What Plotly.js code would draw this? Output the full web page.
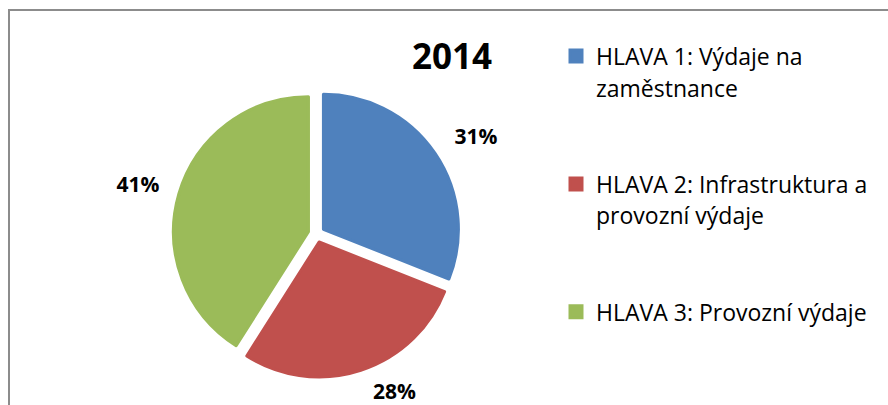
<!DOCTYPE html>
<html>
<head>
<meta charset="utf-8">
<script src="https://cdn.plot.ly/plotly-3.0.1.min.js"></script>
<style>html,body{margin:0;padding:0;background:#fff;}#chart{width:888px;height:405px;}</style>
</head>
<body>
<div id="chart"></div>
<script>
const title = "2014";
const categories = [
  "HLAVA 1: Výdaje na<br>zaměstnance",
  "HLAVA 2: Infrastruktura a<br>provozní výdaje",
  "HLAVA 3: Provozní výdaje"
];
const values = [31, 28, 41];
const colors = ["#4F81BD", "#C0504D", "#9BBB59"];

const NB = "\u00a0";
const legendLabels = categories.map((c, i) => {
  const pad = i < categories.length - 1 ? "<br>" + NB + "<br>" + NB : "";
  return '<span style="font-size:23px">' + c + '</span>' + pad;
});

const W = 888, H = 405;
const cx = 316.5, cy = 234;
const r = 135, pullFrac = 0.062;
const side = 2 * r * (1 + pullFrac);
const labelR = r + 13;
const labelSide = 2 * labelR * (1 + pullFrac);

function dom(s, ccx, ccy) {
  return {
    x: [(ccx - s / 2) / W, (ccx + s / 2) / W],
    y: [(H - ccy - s / 2) / H, (H - ccy + s / 2) / H]
  };
}

const pieTrace = {
  type: "pie",
  labels: legendLabels,
  values: values,
  sort: false,
  direction: "clockwise",
  rotation: 0,
  pull: values.map(() => pullFrac),
  marker: {colors: colors, line: {width: 3, color: colors}},
  textinfo: "none",
  hoverinfo: "none",
  domain: dom(side, cx, cy)
};

// transparent companion pie carrying the percentage labels slightly further out
const labelTrace = {
  type: "pie",
  labels: legendLabels,
  values: values,
  sort: false,
  direction: "clockwise",
  rotation: 0,
  pull: values.map(() => pullFrac),
  marker: {colors: values.map(() => "rgba(0,0,0,0)"), line: {width: 0}},
  textinfo: "percent",
  texttemplate: "%{percent:.0%}",
  textposition: "outside",
  outsidetextfont: {family: "Open Sans", size: 21, color: "#000", weight: "bold"},
  showlegend: false,
  hoverinfo: "none",
  domain: dom(labelSide, cx + 1, cy - 5)
};

const layout = {
  width: W, height: H,
  margin: {l: 0, r: 0, t: 0, b: 0},
  paper_bgcolor: "#fff",
  font: {family: "Open Sans", color: "#000"},
  title: {
    text: "<b>" + title + "</b>",
    font: {family: "Open Sans", size: 35, color: "#000"},
    x: 452 / W, xanchor: "center",
    y: 1 - 57 / H, yanchor: "middle", yref: "container"
  },
  showlegend: true,
  legend: {
    x: 556 / W, xanchor: "left",
    y: 1 - 34 / H, yanchor: "top",
    valign: "top",
    font: {family: "Open Sans", size: 24, color: "#000"},
    bgcolor: "rgba(0,0,0,0)"
  },
  shapes: [{
    type: "rect", xref: "paper", yref: "paper",
    x0: 9 / W, x1: 1.05, y0: -0.1, y1: 1 - 10 / H,
    line: {color: "#8C8C8C", width: 2}
  }]
};

Plotly.newPlot("chart", [pieTrace, labelTrace], layout, {displayModeBar: false, staticPlot: true});
</script>
</body>
</html>
